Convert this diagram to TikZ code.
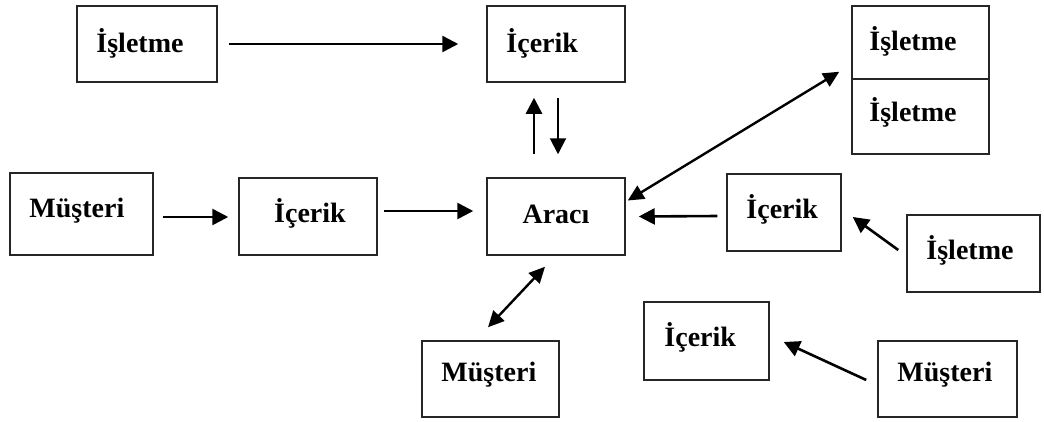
\documentclass[tikz,border=0pt]{standalone}
\usepackage{fontspec}
\setmainfont{Liberation Serif}
\usetikzlibrary{arrows.meta,calc}
\begin{document}
\begin{tikzpicture}[x=1pt,y=-1pt,
  box/.style={draw=black!85, line width=1.5pt, rectangle, inner sep=0pt},
  lbl/.style={anchor=west, inner sep=0pt, font=\fontsize{28}{32}\selectfont\bfseries},
  clbl/.style={anchor=center, inner sep=0pt, font=\fontsize{28}{32}\selectfont\bfseries},
  arr/.style={line width=2.6pt, -{Triangle[length=16pt,width=16pt]}},
  darr/.style={line width=2.4pt, {Triangle[length=16pt,width=15pt]}-{Triangle[length=16pt,width=15pt]}}]
\fill[white] (0,0) rectangle (1044,421);
\useasboundingbox (0,0) rectangle (1044,421);

% boxes
\node[box,minimum width=140pt,minimum height=76pt] (isl1) at (147,44) {};
\node[lbl] (isl1t) at ($(isl1.west)+(20,-1)$) {İşletme};

\node[box,minimum width=138pt,minimum height=76pt] (ic1) at (556,44) {};
\node[lbl] (ic1t) at ($(ic1.west)+(20,-1)$) {İçerik};

\node[box,minimum width=137pt,minimum height=73pt] (isl2a) at (920.5,42.5) {};
\node[lbl] (isl2at) at ($(isl2a.west)+(18,-1)$) {İşletme};
\node[box,minimum width=137pt,minimum height=75pt] (isl2b) at (920.5,116.5) {};
\node[lbl] (isl2bt) at ($(isl2b.west)+(18,-4)$) {İşletme};

\node[box,minimum width=143pt,minimum height=82pt] (mus1) at (81.5,214) {};
\node[lbl] (mus1t) at ($(mus1.west)+(20,-3)$) {Müşteri};

\node[box,minimum width=138pt,minimum height=77pt] (ic2) at (308,216.5) {};
\node[clbl] (ic2t) at ($(ic2.center)+(2,-3)$) {İçerik};

\node[box,minimum width=138pt,minimum height=77pt] (arac) at (556,216.5) {};
\node[clbl] (aract) at ($(arac.center)+(0,-2)$) {Aracı};

\node[box,minimum width=114pt,minimum height=77pt] (ic3) at (784,212.5) {};
\node[lbl] (ic3t) at ($(ic3.west)+(20,-3)$) {İçerik};

\node[box,minimum width=133pt,minimum height=77pt] (isl3) at (973.5,253.5) {};
\node[lbl] (isl3t) at ($(isl3.west)+(20,-3)$) {İşletme};

\node[box,minimum width=137pt,minimum height=76pt] (mus2) at (490.5,379) {};
\node[lbl] (mus2t) at ($(mus2.west)+(20,-4)$) {Müşteri};

\node[box,minimum width=125pt,minimum height=78pt] (ic4) at (706.5,341) {};
\node[lbl] (ic4t) at ($(ic4.west)+(21,-4)$) {İçerik};

\node[box,minimum width=139pt,minimum height=76pt] (mus3) at (947.5,379) {};
\node[lbl] (mus3t) at ($(mus3.west)+(20,-4)$) {Müşteri};

% connectors
\draw[arr] ($(isl1.east)+(11,0)$) -- ($(ic1.west)+(-28,0)$);
\draw[arr] ($(arac.north)+(-22,-23)$) -- ($(ic1.south)+(-22,15)$);
\draw[arr, line width=2pt] ($(ic1.south)+(2,15)$) -- ($(arac.north)+(2,-23)$);
\draw[arr] ($(mus1.east)+(9,3)$) -- ($(ic2.west)+(-10,0.5)$);
\draw[arr] ($(ic2.east)+(6,-5.5)$) -- ($(arac.west)+(-13,-5.5)$);
\draw[darr] ($(arac.east)+(2,-16)$) -- ($(isl2a.south west)+(-12,-8)$);
\draw[arr] ($(ic3.west)+(-9,3.5)$) -- ($(arac.east)+(13,0)$);
\draw[arr] ($(isl3.west)+(-8,-3.5)$) -- ($(ic3.east)+(11,4.5)$);
\draw[darr] ($(arac.south)+(-11,11)$) -- ($(mus2.north)+(-2.5,-13)$);
\draw[arr] ($(mus3.west)+(-11,1)$) -- ($(ic4.east)+(14,1)$);
\end{tikzpicture}
\end{document}
